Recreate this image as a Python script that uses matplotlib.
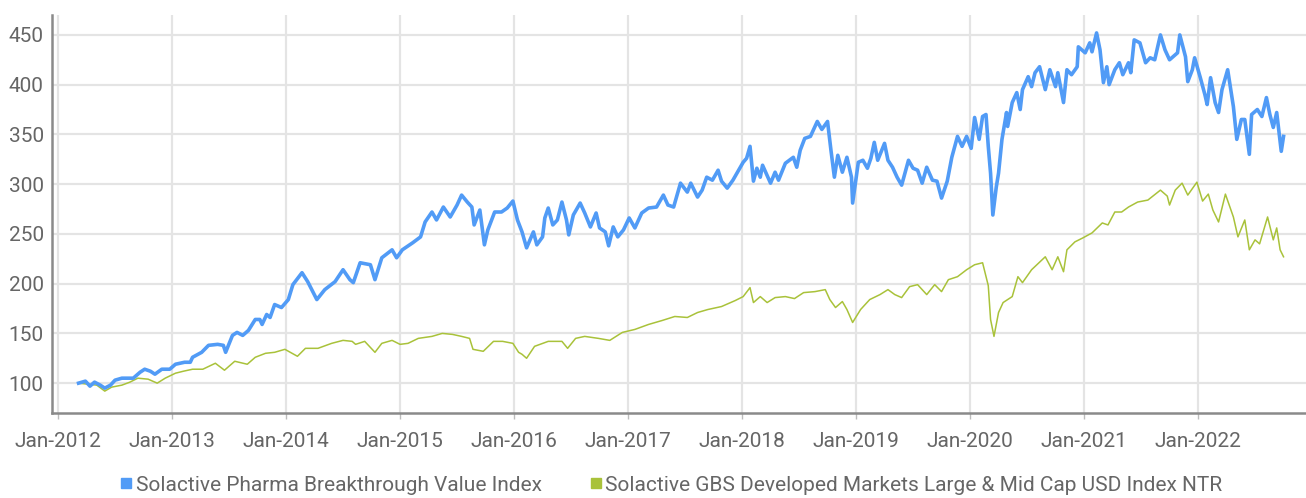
import matplotlib
matplotlib.use("Agg")
import matplotlib.pyplot as plt
from matplotlib.lines import Line2D

# ------------------------------
# Series (time in decimal years)
# ------------------------------
PHARMA_T = [
    2012.18, 2012.24, 2012.28, 2012.32, 2012.37, 2012.41, 2012.46, 2012.50, 2012.56, 2012.66,
    2012.72, 2012.76, 2012.81, 2012.85, 2012.91, 2012.98, 2013.03, 2013.11, 2013.16, 2013.18,
    2013.26, 2013.32, 2013.40, 2013.45, 2013.47, 2013.53, 2013.57, 2013.62, 2013.67, 2013.73,
    2013.77, 2013.79, 2013.83, 2013.86, 2013.90, 2013.96, 2014.02, 2014.06, 2014.14, 2014.19,
    2014.27, 2014.34, 2014.43, 2014.50, 2014.56, 2014.59, 2014.65, 2014.74, 2014.78, 2014.84,
    2014.93, 2014.97, 2015.02, 2015.11, 2015.18, 2015.22, 2015.28, 2015.32, 2015.38, 2015.44,
    2015.50, 2015.54, 2015.59, 2015.63, 2015.65, 2015.70, 2015.74, 2015.77, 2015.83, 2015.89,
    2015.94, 2015.99, 2016.03, 2016.07, 2016.11, 2016.17, 2016.20, 2016.25, 2016.27, 2016.30,
    2016.34, 2016.38, 2016.42, 2016.46, 2016.48, 2016.52, 2016.58, 2016.62, 2016.67, 2016.72,
    2016.75, 2016.80, 2016.83, 2016.87, 2016.91, 2016.96, 2017.01, 2017.06, 2017.12, 2017.18,
    2017.25, 2017.31, 2017.35, 2017.40, 2017.46, 2017.52, 2017.55, 2017.61, 2017.65, 2017.69,
    2017.74, 2017.79, 2017.82, 2017.87, 2017.92, 2017.96, 2018.01, 2018.04, 2018.07, 2018.10,
    2018.13, 2018.16, 2018.18, 2018.25, 2018.29, 2018.32, 2018.38, 2018.45, 2018.48, 2018.51,
    2018.55, 2018.60, 2018.66, 2018.70, 2018.75, 2018.78, 2018.81, 2018.84, 2018.88, 2018.92,
    2018.96, 2018.97, 2019.02, 2019.06, 2019.10, 2019.13, 2019.16, 2019.19, 2019.25, 2019.28,
    2019.32, 2019.36, 2019.40, 2019.46, 2019.50, 2019.54, 2019.58, 2019.62, 2019.67, 2019.71,
    2019.75, 2019.80, 2019.84, 2019.89, 2019.93, 2019.97, 2020.01, 2020.04, 2020.08, 2020.11,
    2020.14, 2020.16, 2020.18, 2020.20, 2020.23, 2020.25, 2020.28, 2020.32, 2020.33, 2020.37,
    2020.41, 2020.44, 2020.46, 2020.51, 2020.54, 2020.57, 2020.61, 2020.66, 2020.70, 2020.75,
    2020.77, 2020.82, 2020.85, 2020.89, 2020.94, 2020.95, 2021.01, 2021.05, 2021.07, 2021.11,
    2021.14, 2021.17, 2021.20, 2021.22, 2021.27, 2021.31, 2021.34, 2021.39, 2021.41, 2021.44,
    2021.49, 2021.54, 2021.58, 2021.62, 2021.67, 2021.71, 2021.75, 2021.82, 2021.84, 2021.89,
    2021.91, 2021.95, 2021.97, 2022.02, 2022.06, 2022.08, 2022.11, 2022.15, 2022.18, 2022.21,
    2022.26, 2022.31, 2022.34, 2022.38, 2022.41, 2022.45, 2022.47, 2022.52, 2022.56, 2022.60,
    2022.63, 2022.66, 2022.69, 2022.73, 2022.75,
]
PHARMA_V = [
    100, 102, 97, 101, 98, 95, 98, 103, 105, 105,
    111, 114, 112, 109, 114, 114, 119, 121, 121, 126,
    131, 138, 139, 138, 131, 148, 151, 148, 153, 164,
    164, 159, 169, 166, 179, 176, 184, 199, 211, 202,
    184, 194, 202, 214, 204, 201, 221, 219, 204, 226,
    234, 226, 234, 241, 247, 262, 272, 264, 277, 267,
    279, 289, 282, 277, 259, 274, 239, 254, 272, 272,
    276, 283, 264, 252, 236, 252, 239, 247, 266, 276,
    259, 264, 282, 264, 249, 269, 281, 271, 257, 271,
    256, 252, 238, 257, 247, 254, 266, 256, 271, 276,
    277, 289, 279, 277, 301, 292, 301, 287, 294, 307,
    304, 314, 303, 296, 304, 312, 322, 326, 338, 303,
    316, 307, 319, 301, 312, 304, 321, 327, 317, 334,
    346, 348, 363, 355, 363, 334, 307, 329, 312, 327,
    307, 281, 322, 324, 316, 326, 342, 324, 341, 324,
    317, 307, 299, 324, 316, 314, 301, 317, 304, 303,
    286, 303, 327, 348, 338, 348, 336, 367, 345, 368,
    370, 338, 311, 269, 297, 311, 345, 372, 358, 382,
    392, 375, 395, 408, 398, 412, 418, 395, 415, 398,
    412, 382, 415, 410, 418, 438, 432, 442, 433, 452,
    435, 402, 418, 400, 415, 422, 410, 422, 412, 445,
    442, 422, 427, 425, 450, 435, 425, 432, 450, 428,
    403, 415, 427, 407, 390, 380, 407, 382, 372, 395,
    415, 378, 345, 365, 365, 330, 370, 375, 368, 387,
    370, 357, 372, 333, 348,
]

GBS_T = [
    2012.18, 2012.34, 2012.41, 2012.47, 2012.56, 2012.63, 2012.70, 2012.79, 2012.87, 2012.94,
    2013.03, 2013.10, 2013.18, 2013.27, 2013.38, 2013.46, 2013.55, 2013.66, 2013.73, 2013.82,
    2013.90, 2013.99, 2014.10, 2014.17, 2014.28, 2014.40, 2014.50, 2014.58, 2014.61, 2014.69,
    2014.78, 2014.84, 2014.93, 2015.00, 2015.07, 2015.16, 2015.28, 2015.37, 2015.46, 2015.54,
    2015.61, 2015.64, 2015.73, 2015.82, 2015.90, 2015.99, 2016.04, 2016.07, 2016.11, 2016.18,
    2016.30, 2016.42, 2016.47, 2016.54, 2016.62, 2016.74, 2016.84, 2016.95, 2017.06, 2017.18,
    2017.30, 2017.41, 2017.52, 2017.61, 2017.70, 2017.82, 2017.94, 2018.01, 2018.07, 2018.10,
    2018.16, 2018.22, 2018.29, 2018.38, 2018.46, 2018.54, 2018.64, 2018.73, 2018.77, 2018.82,
    2018.88, 2018.92, 2018.97, 2019.04, 2019.12, 2019.21, 2019.28, 2019.34, 2019.40, 2019.47,
    2019.54, 2019.62, 2019.69, 2019.75, 2019.81, 2019.89, 2019.97, 2020.04, 2020.11, 2020.16,
    2020.18, 2020.21, 2020.25, 2020.29, 2020.37, 2020.42, 2020.46, 2020.54, 2020.66, 2020.72,
    2020.77, 2020.82, 2020.85, 2020.92, 2020.99, 2021.07, 2021.16, 2021.21, 2021.27, 2021.33,
    2021.39, 2021.47, 2021.56, 2021.67, 2021.73, 2021.75, 2021.80, 2021.86, 2021.91, 2021.99,
    2022.04, 2022.09, 2022.13, 2022.18, 2022.24, 2022.31, 2022.35, 2022.41, 2022.45, 2022.50,
    2022.54, 2022.61, 2022.66, 2022.69, 2022.72, 2022.75,
]
GBS_V = [
    100, 98, 92, 96, 98, 101, 105, 104, 100, 105,
    110, 112, 114, 114, 120, 113, 122, 119, 126, 130,
    131, 134, 127, 135, 135, 140, 143, 142, 139, 142,
    131, 140, 143, 139, 140, 145, 147, 150, 149, 147,
    145, 134, 132, 142, 142, 140, 131, 129, 125, 137,
    142, 142, 135, 145, 147, 145, 143, 151, 154, 159,
    163, 167, 166, 171, 174, 177, 183, 187, 196, 181,
    187, 181, 186, 187, 185, 191, 192, 194, 184, 176,
    182, 174, 161, 174, 184, 189, 194, 189, 186, 197,
    199, 189, 199, 192, 204, 207, 214, 219, 221, 198,
    164, 147, 171, 181, 187, 207, 201, 214, 227, 214,
    227, 212, 234, 242, 246, 251, 261, 259, 272, 272,
    277, 282, 284, 294, 288, 279, 294, 301, 289, 302,
    283, 290, 274, 262, 290, 267, 247, 264, 234, 244,
    240, 267, 244, 256, 234, 227,
]

YEARS = list(range(2012, 2023))
YEAR_LABELS = [f"Jan-{y}" for y in YEARS]
Y_TICKS = [100, 150, 200, 250, 300, 350, 400, 450]

LABEL_PHARMA = "Solactive Pharma Breakthrough Value Index"
LABEL_GBS = "Solactive GBS Developed Markets Large & Mid Cap USD Index NTR"

BLUE = "#519bf6"
GREEN = "#a9c23a"
TEXT = "#666666"

plt.rcParams['font.family'] = ['Roboto', 'DejaVu Sans']

fig = plt.figure(figsize=(13.06, 4.98), dpi=100)
ax = fig.add_axes([52 / 1306, 85 / 498, 1 - 52 / 1306, 398 / 498])

ax.plot(GBS_T, GBS_V, color=GREEN, linewidth=1.1, zorder=3)
ax.plot(PHARMA_T, PHARMA_V, color=BLUE, linewidth=2.6, zorder=4)

ax.set_xlim(2011.947, 2022.947)
ax.set_ylim(70, 470)

ax.set_xticks(YEARS)
ax.set_xticklabels(YEAR_LABELS)
ax.set_yticks(Y_TICKS)

ax.grid(True, color="#e4e4e4", linewidth=1.6, zorder=0)
ax.set_axisbelow(True)

for side in ['top', 'right']:
    ax.spines[side].set_visible(False)
ax.spines['left'].set_color("#8a8a8a")
ax.spines['left'].set_linewidth(1.8)
ax.spines['bottom'].set_color("#8a8a8a")
ax.spines['bottom'].set_linewidth(1.8)

ax.tick_params(axis='y', length=0, pad=6, labelsize=15, labelcolor=TEXT)
ax.tick_params(axis='x', length=4, width=1, color="#bdbdbd", pad=10,
               labelsize=15, labelcolor=TEXT)

handles = [
    Line2D([], [], marker='s', linestyle='none', markersize=7,
           markerfacecolor=BLUE, markeredgecolor=BLUE),
    Line2D([], [], marker='s', linestyle='none', markersize=7,
           markerfacecolor=GREEN, markeredgecolor=GREEN),
]
fig.legend(handles, [LABEL_PHARMA, LABEL_GBS], loc='center',
           bbox_to_anchor=(670 / 1306, 1 - 485 / 498), ncol=2, frameon=False,
           fontsize=15, labelcolor=TEXT, handletextpad=0.05, columnspacing=2.2,
           handlelength=0.8)

fig.savefig("out.png", dpi=100)
